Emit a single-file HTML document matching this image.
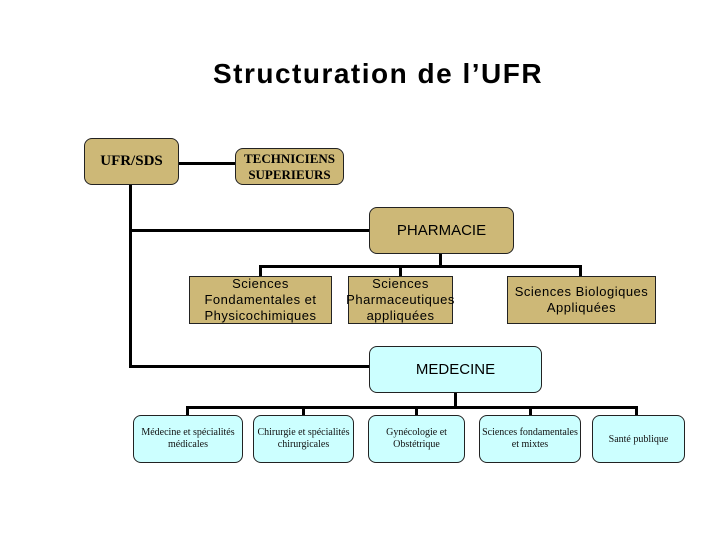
<!DOCTYPE html>
<html><head><meta charset="utf-8"><style>
body{margin:0;width:720px;height:540px;background:#fff;position:relative;overflow:hidden;font-family:"Liberation Sans",sans-serif}
.b{position:absolute;box-sizing:border-box;border:1.5px solid #222;display:flex;align-items:center;justify-content:center;text-align:center;color:#000}
.g{background:#CDB877}
.c{background:#CCFFFF;border-radius:8px}
.r{border-radius:8px}
.s{font-family:"Liberation Serif",serif}
.l{position:absolute;background:#000}
.p{letter-spacing:0.5px}
</style></head><body>
<div style="position:absolute;left:0;width:756px;top:58px;text-align:center;font-size:28px;font-weight:bold;letter-spacing:1.5px">Structuration de l’UFR</div>
<!-- lines -->
<div class="l" style="left:178px;top:162px;width:58px;height:3px"></div>
<div class="l" style="left:129px;top:184px;width:3px;height:183px"></div>
<div class="l" style="left:129px;top:229px;width:241px;height:3px"></div>
<div class="l" style="left:129px;top:365px;width:241px;height:3px"></div>
<div class="l" style="left:439px;top:253px;width:3px;height:14px"></div>
<div class="l" style="left:259px;top:265px;width:322px;height:3px"></div>
<div class="l" style="left:259px;top:265px;width:3px;height:12px"></div>
<div class="l" style="left:399px;top:265px;width:3px;height:12px"></div>
<div class="l" style="left:579px;top:265px;width:3px;height:12px"></div>
<div class="l" style="left:454px;top:392px;width:3px;height:16px"></div>
<div class="l" style="left:186px;top:406px;width:452px;height:3px"></div>
<div class="l" style="left:186px;top:406px;width:3px;height:10px"></div>
<div class="l" style="left:302px;top:406px;width:3px;height:10px"></div>
<div class="l" style="left:415px;top:406px;width:3px;height:10px"></div>
<div class="l" style="left:529px;top:406px;width:3px;height:10px"></div>
<div class="l" style="left:635px;top:406px;width:3px;height:10px"></div>
<!-- boxes -->
<div class="b g r s" style="left:84px;top:138px;width:95px;height:47px;font-weight:bold;font-size:15px">UFR/SDS</div>
<div class="b g r s" style="left:235px;top:148px;width:109px;height:37px;font-weight:bold;font-size:13px;line-height:16px">TECHNICIENS<br>SUPERIEURS</div>
<div class="b g r" style="left:369px;top:207px;width:145px;height:47px;font-size:15px">PHARMACIE</div>
<div class="b g p" style="left:189px;top:276px;width:143px;height:48px;font-size:13px;line-height:16px">Sciences<br>Fondamentales et<br>Physicochimiques</div>
<div class="b g p" style="left:348px;top:276px;width:105px;height:48px;font-size:13px;line-height:16px">Sciences<br>Pharmaceutiques<br>appliquées</div>
<div class="b g p" style="left:507px;top:276px;width:149px;height:48px;font-size:13px;line-height:16px">Sciences Biologiques<br>Appliquées</div>
<div class="b c" style="left:369px;top:346px;width:173px;height:47px;font-size:15px">MEDECINE</div>
<div class="b c s" style="left:133px;top:415px;width:110px;height:48px;font-size:10px;line-height:12px;color:#111">Médecine et spécialités<br>médicales</div>
<div class="b c s" style="left:253px;top:415px;width:101px;height:48px;font-size:10px;line-height:12px;color:#111">Chirurgie et spécialités<br>chirurgicales</div>
<div class="b c s" style="left:368px;top:415px;width:97px;height:48px;font-size:10px;line-height:12px;color:#111">Gynécologie et<br>Obstétrique</div>
<div class="b c s" style="left:479px;top:415px;width:102px;height:48px;font-size:10px;line-height:12px;color:#111">Sciences fondamentales<br>et mixtes</div>
<div class="b c s" style="left:592px;top:415px;width:93px;height:48px;font-size:10px;color:#111">Santé publique</div>
</body></html>
